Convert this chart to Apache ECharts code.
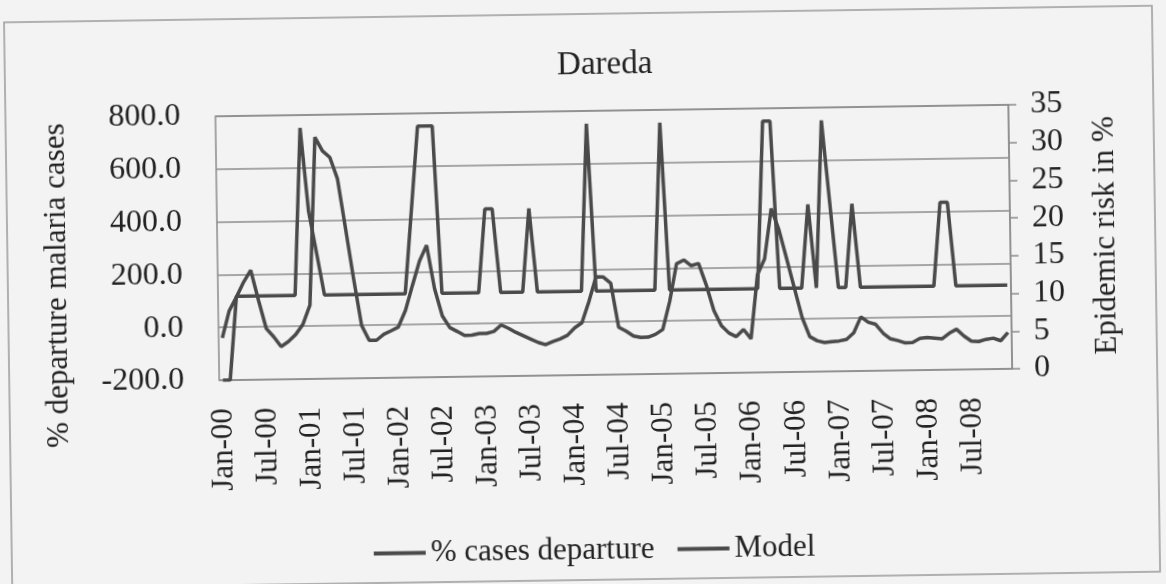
<!DOCTYPE html>
<html>
<head>
<meta charset="utf-8">
<title>Dareda</title>
<script src="https://cdn.jsdelivr.net/npm/echarts/dist/echarts.min.js"></script>
<style>
  html, body { margin: 0; padding: 0; background: #f3f3f3; overflow: hidden; }
  #chart { width: 1166px; height: 584px; transform: rotate(-0.83deg); }
</style>
</head>
<body>
<div id="chart"></div>
<script>
// monthly categories Jan-00 .. Dec-08
const months = ['Jan', 'Feb', 'Mar', 'Apr', 'May', 'Jun', 'Jul', 'Aug', 'Sep', 'Oct', 'Nov', 'Dec'];
const years = ['00', '01', '02', '03', '04', '05', '06', '07', '08'];
const categories = years.flatMap(y => months.map(m => m + '-' + y));

// % departure of malaria cases (left axis)
const casesDeparture = [
  -40, 63, 114, 170, 215, 101, -6, -38, -76, -57, -31, 7,
  80, 715, 663, 638, 556, 367, 177, 0, -57, -57, -35, -22,
  -8, 55, 149, 240, 300, 135, 32, -13, -28, -44, -43, -37,
  -37, -30, -6, -19, -35, -48, -61, -74, -83, -72, -62, -49,
  -21, -2, 78, 171, 170, 146, -21, -36, -55, -61, -60, -50,
  -32, 74, 216, 230, 208, 216, 135, 37, -21, -49, -63, -36,
  -72, 170, 230, 420, 340, 230, 118, 6, -67, -83, -90, -87,
  -85, -80, -55, 5, -16, -24, -58, -80, -87, -96, -95, -80,
  -77, -80, -83, -62, -47, -73, -93, -95, -87, -83, -93, -62
];

// model epidemic risk in % (right axis)
const model = [
  0, 0, 11.1, 11.1, 11.1, 11.1, 11.1, 11.1, 11.1, 11.1, 11.1, 33.3,
  22.2, 16.7, 11.1, 11.1, 11.1, 11.1, 11.1, 11.1, 11.1, 11.1, 11.1, 11.1,
  11.1, 11.1, 22.2, 33.3, 33.3, 33.3, 11.1, 11.1, 11.1, 11.1, 11.1, 11.1,
  22.2, 22.2, 11.1, 11.1, 11.1, 11.1, 22.2, 11.1, 11.1, 11.1, 11.1, 11.1,
  11.1, 11.1, 33.3, 11.1, 11.1, 11.1, 11.1, 11.1, 11.1, 11.1, 11.1, 11.1,
  33.3, 11.1, 11.1, 11.1, 11.1, 11.1, 11.1, 11.1, 11.1, 11.1, 11.1, 11.1,
  11.1, 11.1, 33.3, 33.3, 11.1, 11.1, 11.1, 11.1, 22.2, 11.1, 33.3, 22.2,
  11.1, 11.1, 22.2, 11.1, 11.1, 11.1, 11.1, 11.1, 11.1, 11.1, 11.1, 11.1,
  11.1, 11.1, 22.2, 22.2, 11.1, 11.1, 11.1, 11.1, 11.1, 11.1, 11.1, 11.1
];

const font = "'Liberation Serif', 'Times New Roman', serif";
const ink = '#222';
const gridGrey = '#8c8c8c';
const lineGrey = '#4a4a4a';

const chart = echarts.init(document.getElementById('chart'));

const option = {
  backgroundColor: '#f3f3f3',
  animation: false,
  textStyle: { fontFamily: font },
  title: {
    text: 'Dareda',
    left: 603,
    top: 44,
    textAlign: 'center',
    textStyle: { fontFamily: font, fontSize: 33, fontWeight: 'normal', color: ink }
  },
  legend: {
    left: 365,
    top: 530,
    icon: 'rect',
    itemWidth: 52,
    itemHeight: 4,
    itemGap: 23,
    textStyle: { fontFamily: font, fontSize: 31, color: ink },
    data: ['% cases departure', 'Model']
  },
  graphic: [{
    type: 'rect',
    shape: { x: 8, y: 14, width: 1148, height: 566 },
    style: { fill: 'none', stroke: '#9a9a9a', lineWidth: 1.5 },
    silent: true
  }],
  grid: {
    left: 218,
    right: 155,
    top: 111,
    bottom: 209,
    show: true,
    borderColor: gridGrey,
    borderWidth: 1.5
  },
  xAxis: {
    type: 'category',
    data: categories,
    boundaryGap: true,
    axisLine: { show: false },
    axisTick: { show: false },
    splitLine: { show: false },
    axisLabel: {
      interval: 5,
      rotate: 90,
      margin: 28,
      fontFamily: font,
      fontSize: 31,
      color: ink
    }
  },
  yAxis: [
    {
      type: 'value',
      min: -200,
      max: 800,
      interval: 200,
      name: '% departure malaria cases',
      nameLocation: 'middle',
      nameRotate: 90,
      nameGap: 145,
      nameTextStyle: { fontFamily: font, fontSize: 31, color: ink, padding: [0, 70, 0, 0] },
      axisLine: { show: false },
      axisTick: { show: false },
      axisLabel: {
        margin: 35,
        fontFamily: font,
        fontSize: 32,
        color: ink,
        formatter: v => v.toFixed(1)
      },
      splitLine: { lineStyle: { color: gridGrey, width: 1.5 } }
    },
    {
      type: 'value',
      min: 0,
      max: 35,
      interval: 5,
      position: 'right',
      name: 'Epidemic risk in %',
      nameLocation: 'middle',
      nameRotate: 90,
      nameGap: 80,
      nameTextStyle: { fontFamily: font, fontSize: 31, color: ink },
      axisLine: { show: true, lineStyle: { color: gridGrey, width: 1.5 } },
      axisTick: { show: true, length: 8, lineStyle: { color: gridGrey, width: 1.5 } },
      axisLabel: { margin: 22, fontFamily: font, fontSize: 32, color: ink },
      splitLine: { show: false }
    }
  ],
  series: [
    {
      name: '% cases departure',
      type: 'line',
      yAxisIndex: 0,
      data: casesDeparture,
      symbol: 'none',
      lineStyle: { color: lineGrey, width: 3.5 },
      itemStyle: { color: lineGrey }
    },
    {
      name: 'Model',
      type: 'line',
      yAxisIndex: 1,
      data: model,
      symbol: 'none',
      lineStyle: { color: lineGrey, width: 3.5 },
      itemStyle: { color: lineGrey }
    }
  ]
};

chart.setOption(option);
</script>
</body>
</html>
